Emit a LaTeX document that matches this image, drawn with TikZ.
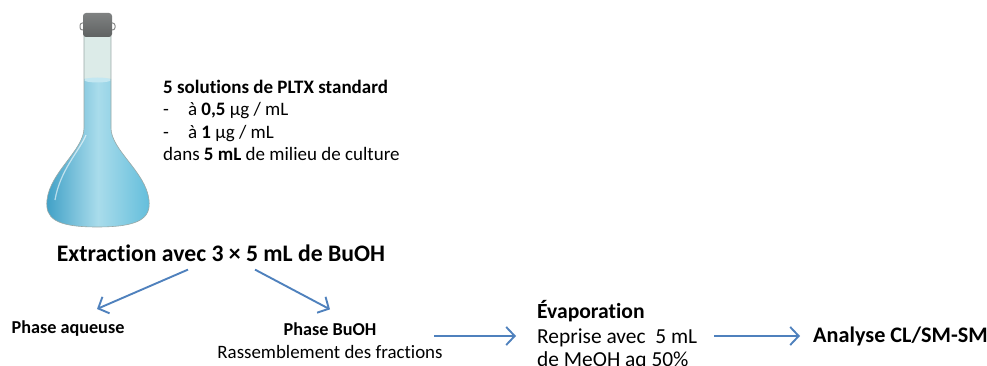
\documentclass[tikz,border=0pt]{standalone}
\usepackage{fontspec}
\setmainfont{Carlito}[Ligatures=NoCommon]
\usetikzlibrary{arrows.meta}

\definecolor{flowblue}{HTML}{4F81BD}
\definecolor{capgray}{HTML}{5F6262}
\definecolor{glassfill}{HTML}{DCEBE8}
\definecolor{glassline}{HTML}{9AA8A6}
\definecolor{liqdark}{HTML}{3E9FC6}
\definecolor{liqmid}{HTML}{62BDDB}
\definecolor{liqlight}{HTML}{A9DCEB}

\tikzset{
  flow/.style={draw=flowblue, line width=1.9pt,
    -{Straight Barb[length=8.5pt,width=18pt,line width=1.9pt]}},
  boldlbl/.style={font=\fontsize{18.2}{22}\selectfont\bfseries, inner sep=0pt},
  plainlbl/.style={font=\fontsize{18.9}{22}\selectfont, inner sep=0pt},
}

\begin{document}
\begin{tikzpicture}[x=1pt, y=-1pt]

  % Page frame
  \useasboundingbox (0,0) rectangle (987,366);
  \clip (0,0) rectangle (987,366);

  % Flask: glass of the neck
  \fill[glassfill] (84,36) -- (84,128) -- (111,128) -- (111,36) -- cycle;

  % Liquid in the neck and in the body
  \shade[left color=liqdark, right color=liqmid, middle color=liqlight]
    (84,79) -- (84,128) .. controls (84,150) and (50,172) .. (47,200)
    .. controls (45,218) and (55,227) .. (97,227)
    .. controls (140,227) and (151,218) .. (149,200)
    .. controls (146,172) and (111,150) .. (111,128) -- (111,79) -- cycle;
  \fill[liqlight!70!white] (97.5,80) ellipse (13.5 and 2.5);
  \draw[white, opacity=0.6, line width=1.2pt]
    (86,135) .. controls (80,150) and (60,170) .. (55,200);

  % Outline of the glass
  \draw[glassline, line width=0.6pt]
    (84,36) -- (84,128) .. controls (84,150) and (50,172) .. (47,200)
    .. controls (45,218) and (55,227) .. (97,227)
    .. controls (140,227) and (151,218) .. (149,200)
    .. controls (146,172) and (111,150) .. (111,128) -- (111,36);

  % Stopper
  \draw[capgray!75, line width=1pt, rounded corners=2.5pt] (80,23) rectangle (115,30);
  \shade[top color=capgray!80, bottom color=capgray, rounded corners=3pt]
    (83,13) rectangle (112,37);

  % Samples
  \node[anchor=north west, inner sep=0pt, align=left,
        font=\fontsize{19}{22.3}\selectfont] (samples) at (163,80)
    {\textbf{5 solutions de PLTX standard}\\
     -\quad à \textbf{0,5} µg / mL\\
     -\quad à \textbf{1} µg / mL\\
     dans \textbf{5 mL} de milieu de culture};

  % Extraction step
  \node[font=\fontsize{23.7}{26}\selectfont\bfseries, inner sep=0pt]
    (extraction) at (221,253) {Extraction avec 3 × 5 mL de BuOH};

  \node[boldlbl] (aqueuse) at (68,329) {Phase aqueuse};
  \node[boldlbl] (buoh) at (330,329) {Phase BuOH};
  \node[plainlbl] (fractions) at (330,352) {Rassemblement des fractions};

  \draw[flow] ([xshift=-33pt,yshift=-8pt]extraction.south)
    -- ([xshift=29pt,yshift=12pt]aqueuse.north);
  \draw[flow] ([xshift=34pt,yshift=-8pt]extraction.south)
    -- ([yshift=13pt]buoh.north);

  % Evaporation and analysis
  \node[boldlbl, anchor=west, font=\fontsize{21.6}{24}\selectfont\bfseries]
    (evap) at (537,311) {Évaporation};
  \node[plainlbl, anchor=west, font=\fontsize{21.4}{24}\selectfont]
    (reprise) at (537,338) {Reprise avec~ 5 mL};
  \node[plainlbl, anchor=west, font=\fontsize{21.4}{24}\selectfont]
    (meoh) at (537,361) {de MeOH aq 50\%};
  \node[boldlbl, anchor=west, font=\fontsize{22.2}{24}\selectfont\bfseries]
    (analyse) at (813,336) {Analyse CL/SM-SM};

  \coordinate (out-buoh) at (434,336);
  \draw[flow] (out-buoh) -- ([xshift=-21pt]reprise.west |- out-buoh);
  \draw[flow] ([xshift=17pt]reprise.east |- out-buoh)
    -- ([xshift=-13pt]analyse.west);

\end{tikzpicture}
\end{document}
